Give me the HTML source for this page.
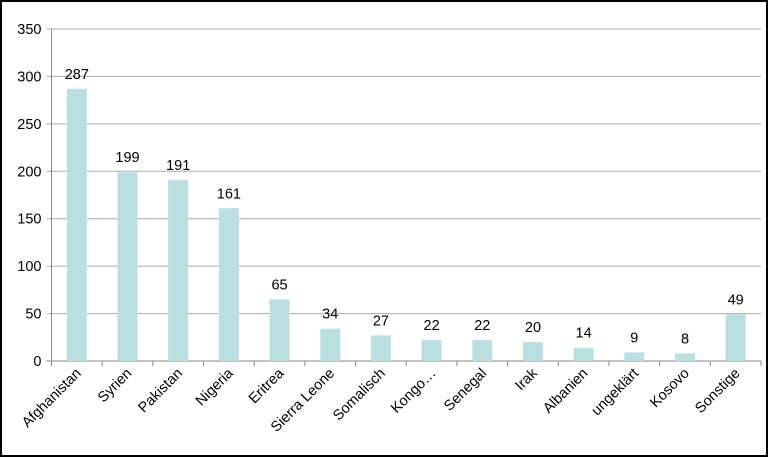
<!DOCTYPE html>
<html><head><meta charset="utf-8"><style>
html,body{margin:0;padding:0;background:#fff}
svg{display:block}
text{font-family:"Liberation Sans",Arial,sans-serif;fill:#000}
</style></head><body>
<svg width="768" height="457" viewBox="0 0 768 457">
<rect x="1" y="1" width="766" height="455" fill="#fff" stroke="#000" stroke-width="2"/>
<g id="grid"></g><g id="bars"></g><g id="labels"></g>
</svg>
<script>
const categories=["Afghanistan","Syrien","Pakistan","Nigeria","Eritrea","Sierra Leone","Somalisch","Kongo…","Senegal","Irak","Albanien","ungeklärt","Kosovo","Sonstige"];
const values=[287,199,191,161,65,34,27,22,22,20,14,9,8,49];
const yTicks=[0,50,100,150,200,250,300,350];
const NS="http://www.w3.org/2000/svg";
const x0=51.5,x1=761,y0=361,y1=29,yMax=350;
const step=(x1-x0)/categories.length;
const y=v=>y0-(v/yMax)*(y0-y1);
const xc=i=>x0+step*(i+0.5);
function mk(t,a,p){const e=document.createElementNS(NS,t);for(const k in a)e.setAttribute(k,a[k]);p.appendChild(e);return e;}
const grid=document.getElementById('grid'),bars=document.getElementById('bars'),labels=document.getElementById('labels');
yTicks.forEach(t=>{
  const l=mk('line',{x1:x0-5,x2:x1,y1:y(t),y2:y(t),stroke:t===0?'#888':'#aaa','stroke-width':1},grid);
  
  
  const tx=mk('text',{x:x0-10,y:y(t)+5,'text-anchor':'end','font-size':14.5},grid);
  tx.textContent=t;
  
  
});
const ax=mk('line',{x1:x0,x2:x0,y1:y1,y2:y0+4,stroke:'#888','stroke-width':1},grid);


for(let i=0;i<=categories.length;i++){
  const tk=mk('line',{x1:x0+step*i,x2:x0+step*i,y1:y0,y2:y0+5,stroke:'#888'},grid);
  
  
}
categories.forEach((c,i)=>{
  const v=values[i],bw=20;
  const r=mk('rect',{x:xc(i)-bw/2,y:y(v),width:bw,height:y0-y(v),fill:'#b9dfe1'},bars);
  
  
  const vl=mk('text',{x:xc(i),y:y(v)-10,'text-anchor':'middle','font-size':14.5},labels);
  vl.textContent=v;
  
  
  const cx=xc(i)+5,cy=y0+13;
  const cl=mk('text',{x:cx,y:cy,'text-anchor':'end','font-size':14.5,transform:`rotate(-45 ${cx} ${cy})`},labels);
  cl.textContent=c;
  
  
});
</script>
</body></html>
